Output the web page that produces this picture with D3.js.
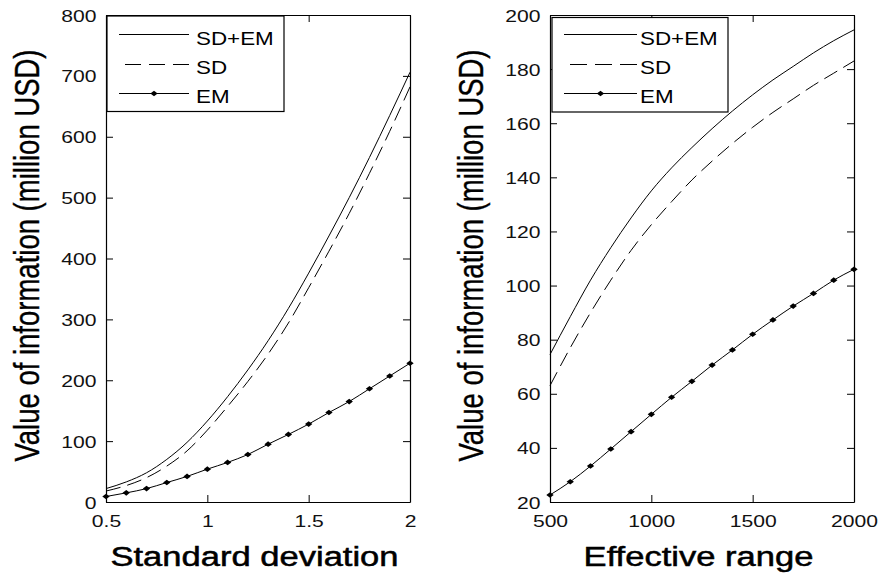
<!DOCTYPE html>
<html>
<head>
<meta charset="utf-8">
<script src="https://cdn.jsdelivr.net/npm/d3@7"></script>
<style>
  html, body { margin: 0; padding: 0; background: #fff; }
  svg { display: block; font-family: "Liberation Sans", Arial, Helvetica, sans-serif; }
</style>
</head>
<body>
<svg id="chart" width="879" height="573"></svg>
<script>
// ---- Left panel: value of information vs. standard deviation ----
const stdDev = [0.5, 0.6, 0.7, 0.8, 0.9, 1.0, 1.1, 1.2, 1.3, 1.4, 1.5, 1.6, 1.7, 1.8, 1.9, 2.0];
const stdDevSdEm = [22, 33, 48, 70, 98, 133, 173, 217, 265, 318, 376, 437, 500, 566, 635, 706];
const stdDevSd   = [18, 27, 40, 59, 84, 118, 157, 198, 243, 294, 352, 412, 474, 540, 609, 682];
const stdDevEm   = [9, 15, 22, 32, 42, 54, 65, 78, 95, 111, 128, 147, 165, 186, 207, 228];
const stdDevTicks = [0.5, 1, 1.5, 2];
const stdDevTickLabels = ["0.5", "1", "1.5", "2"];
const valueTicksLeft = [0, 100, 200, 300, 400, 500, 600, 700, 800];

// ---- Right panel: value of information vs. effective range ----
const effRange = [500, 600, 700, 800, 900, 1000, 1100, 1200, 1300, 1400, 1500, 1600, 1700, 1800, 1900, 2000];
const effRangeSdEm = [74.5, 88.5, 102, 114, 125, 135, 143.5, 151, 158, 164.5, 170.5, 176, 181, 186, 190.5, 194.5];
const effRangeSd   = [63, 77, 90, 102, 113, 122.5, 131, 139, 146, 152.5, 158.5, 164, 169, 174, 178.5, 183];
const effRangeEm   = [22.6, 27.5, 33.3, 39.6, 46, 52.4, 58.7, 64.6, 70.6, 76.2, 82, 87.3, 92.4, 97.1, 102, 106];
const effRangeTicks = [500, 1000, 1500, 2000];
const effRangeTickLabels = ["500", "1000", "1500", "2000"];
const valueTicksRight = [20, 40, 60, 80, 100, 120, 140, 160, 180, 200];

const seriesNames = ["SD+EM", "SD", "EM"];
const yAxisTitle = "Value of information (million USD)";

// Text is drawn wide (horizontal stretch), like the original figure export.
const STRETCH = 1.28;
const TICK = 7;

const svg = d3.select("#chart");

// Small filled diamond used as the EM marker
const diamondMark = {
  draw(ctx, size) {
    const r = Math.sqrt(size / 2);
    ctx.moveTo(-r * 1.3, 0);
    ctx.lineTo(0, -r);
    ctx.lineTo(r * 1.3, 0);
    ctx.lineTo(0, r);
    ctx.closePath();
  }
};
const MARK_SIZE = 16;

const panels = [
  {
    xs: stdDev, ys: [stdDevSdEm, stdDevSd, stdDevEm],
    xDomain: [0.5, 2], yDomain: [0, 800],
    xTicks: stdDevTicks, xTickLabels: stdDevTickLabels, yTicks: valueTicksLeft,
    xTitle: "Standard deviation",
    left: 106, right: 410, top: 15, bottom: 502,
    yTitleX: 39.3,
    legend: { x0: 107, x1: 284, y0: 16, y1: 111.5, lineX0: 119, lineX1: 189, dashX0: 125, textX: 196 }
  },
  {
    xs: effRange, ys: [effRangeSdEm, effRangeSd, effRangeEm],
    xDomain: [500, 2000], yDomain: [20, 200],
    xTicks: effRangeTicks, xTickLabels: effRangeTickLabels, yTicks: valueTicksRight,
    xTitle: "Effective range",
    left: 550, right: 854, top: 15, bottom: 502,
    yTitleX: 482.7,
    legend: { x0: 552, x1: 728, y0: 17.5, y1: 112, lineX0: 564, lineX1: 637, dashX0: 570, textX: 640 }
  }
];

panels.forEach(p => {
  const g = svg.append("g");
  const x = d3.scaleLinear().domain(p.xDomain).range([p.left, p.right]);
  const y = d3.scaleLinear().domain(p.yDomain).range([p.bottom, p.top]);

  // Axes: ticks point inward on all four sides
  const bottomAxis = g.append("g").attr("transform", `translate(0,${p.bottom})`)
    .call(d3.axisBottom(x).tickValues(p.xTicks).tickSizeInner(-TICK).tickSizeOuter(0)
      .tickFormat((d, i) => p.xTickLabels[i]));
  const leftAxis = g.append("g").attr("transform", `translate(${p.left},0)`)
    .call(d3.axisLeft(y).tickValues(p.yTicks).tickSizeInner(-TICK).tickSizeOuter(0)
      .tickFormat(d3.format("d")));
  const topAxis = g.append("g").attr("transform", `translate(0,${p.top})`)
    .call(d3.axisTop(x).tickValues(p.xTicks).tickSizeInner(-TICK).tickSizeOuter(0).tickFormat(""));
  const rightAxis = g.append("g").attr("transform", `translate(${p.right},0)`)
    .call(d3.axisRight(y).tickValues(p.yTicks).tickSizeInner(-TICK).tickSizeOuter(0).tickFormat(""));

  [bottomAxis, leftAxis, topAxis, rightAxis].forEach(a => {
    a.select(".domain").attr("stroke", "#000").attr("stroke-width", 1.2);
    a.selectAll(".tick line").attr("stroke", "#000").attr("stroke-width", 1);
  });

  bottomAxis.selectAll(".tick text")
    .attr("y", null).attr("dy", null)
    .attr("transform", `translate(0,25) scale(${STRETCH},1)`)
    .attr("text-anchor", "middle")
    .attr("font-size", 16.5).attr("fill", "#111");

  leftAxis.selectAll(".tick text")
    .attr("x", null).attr("dy", null)
    .attr("transform", `translate(-9.5,6) scale(${STRETCH},1)`)
    .attr("text-anchor", "end")
    .attr("font-size", 16.5).attr("fill", "#111");

  bottomAxis.attr("font-family", null);
  leftAxis.attr("font-family", null);

  // Curves
  const line = d3.line().x((d, i) => x(p.xs[i])).y(d => y(d)).curve(d3.curveMonotoneX);
  const dashes = ["none", "15,7", "none"];
  p.ys.forEach((vals, k) => {
    g.append("path").datum(vals)
      .attr("d", line)
      .attr("fill", "none")
      .attr("stroke", "#000")
      .attr("stroke-width", 1)
      .attr("stroke-dasharray", dashes[k]);
  });

  // EM markers
  g.append("g").selectAll("path")
    .data(p.ys[2])
    .join("path")
    .attr("d", d3.symbol().type(diamondMark).size(MARK_SIZE))
    .attr("transform", (d, i) => `translate(${x(p.xs[i])},${y(d)})`)
    .attr("fill", "#000");

  // Legend
  const L = p.legend;
  const lg = g.append("g");
  lg.append("rect")
    .attr("x", L.x0).attr("y", L.y0)
    .attr("width", L.x1 - L.x0).attr("height", L.y1 - L.y0)
    .attr("fill", "#fff").attr("stroke", "#000").attr("stroke-width", 1.2);
  const rowLineY = [34.5, 64.5, 93.5];
  const rowTextY = [44.5, 74, 102.5];
  seriesNames.forEach((name, k) => {
    const ly = rowLineY[k];
    if (k === 1) {
      const len = L.lineX1 - L.dashX0;
      const gap = 8;
      const dash = (len - 2 * gap) / 3;
      lg.append("line")
        .attr("x1", L.dashX0).attr("x2", L.lineX1).attr("y1", ly).attr("y2", ly)
        .attr("stroke", "#000").attr("stroke-width", 1)
        .attr("stroke-dasharray", `${dash},${gap}`);
    } else {
      lg.append("line")
        .attr("x1", L.lineX0).attr("x2", L.lineX1).attr("y1", ly).attr("y2", ly)
        .attr("stroke", "#000").attr("stroke-width", 1);
    }
    if (k === 2) {
      lg.append("path")
        .attr("d", d3.symbol().type(diamondMark).size(MARK_SIZE))
        .attr("transform", `translate(${(L.lineX0 + L.lineX1) / 2},${ly})`)
        .attr("fill", "#000");
    }
    lg.append("text")
      .attr("transform", `translate(${L.textX},${rowTextY[k]}) scale(${STRETCH},1)`)
      .attr("font-size", 17.5)
      .attr("fill", "#000")
      .text(name);
  });

  // Axis titles (slightly heavier strokes)
  g.append("text")
    .attr("transform", `translate(${(p.left + p.right) / 2 - 3.5},566) scale(${STRETCH},1)`)
    .attr("text-anchor", "middle")
    .attr("font-size", 27)
    .attr("fill", "#000")
    .attr("stroke", "#000").attr("stroke-width", 0.5)
    .text(p.xTitle);

  g.append("text")
    .attr("transform", `translate(${p.yTitleX},255.5) rotate(-90) scale(1,${STRETCH})`)
    .attr("text-anchor", "middle")
    .attr("font-size", 27.5)
    .attr("fill", "#000")
    .attr("stroke", "#000").attr("stroke-width", 0.3)
    .text(yAxisTitle);
});
</script>
</body>
</html>
